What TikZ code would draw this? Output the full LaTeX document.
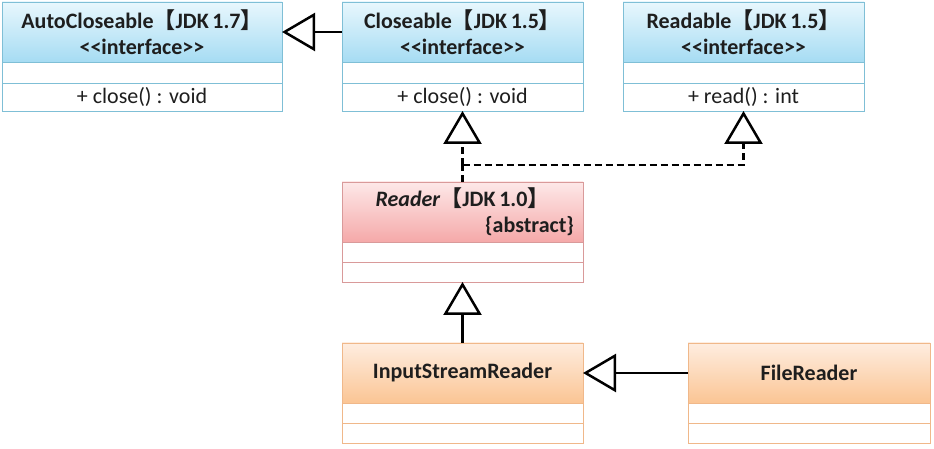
\documentclass[tikz,border=0pt]{standalone}
\usepackage{fontspec}
\setmainfont{Carlito}
\newfontfamily\cjk{Noto Sans CJK SC}
\usetikzlibrary{positioning}
\usetikzlibrary{arrows.meta}
\usetikzlibrary{calc}
\definecolor{ifcline}{HTML}{7FBFD6}
\definecolor{ifctop}{HTML}{E8F7FD}
\definecolor{ifcbot}{HTML}{A6DCF3}
\definecolor{absline}{HTML}{D99A9A}
\definecolor{abstop}{HTML}{FDE8E8}
\definecolor{absbot}{HTML}{F5A9A9}
\definecolor{clsline}{HTML}{F0B88A}
\definecolor{clstop}{HTML}{FEEDE0}
\definecolor{clsbot}{HTML}{FBC594}
\definecolor{ink}{HTML}{1E1E1E}
\newcommand{\jdk}[1]{{\cjk 【}JDK\,#1{\cjk 】}}
\newcommand{\stereo}[1]{<\kern0pt<#1>\kern0pt>}

\begin{document}
\begin{tikzpicture}[
  x=1pt, y=1pt,
  hdr/.style 2 args={
    draw=#1line,
    top color=#1top,
    bottom color=#1bot,
    line width=0.8pt,
    minimum width=#2,
    minimum height=60pt,
    inner sep=0pt,
    outer sep=0pt,
    align=center,
    text=ink,
    font=\fontsize{22}{26}\selectfont\bfseries},
  cell/.style 2 args={
    draw=#1line,
    fill=white,
    line width=0.8pt,
    minimum width=#2,
    minimum height=21pt,
    inner sep=0pt,
    outer sep=0pt,
    text=ink,
    font=\fontsize{22}{24}\selectfont}]
  \useasboundingbox (0,0) rectangle (934,449);
  % interface headers
  \node[hdr={ifc}{280pt}] (ac) at (142, 417) {AutoCloseable\jdk{1.7}\\\stereo{interface}};
  \node[hdr={ifc}{241pt}] (cl) at (462.5, 417) {Closeable\jdk{1.5}\\\stereo{interface}};
  \node[hdr={ifc}{241pt}] (rb) at (743.5, 417) {Readable\jdk{1.5}\\\stereo{interface}};
  % interface compartments
  \foreach \b/\w/\m in {ac/280pt/close() : void,cl/241pt/close() : void,rb/241pt/read() : int} {
    \node[cell={ifc}{\w}] (\b2) [below=0pt of \b] {};
    \node[cell={ifc}{\w},minimum height=28pt] (\b3) [below=0pt of \b2] {+ \m};
  }
  % class headers
  \node[hdr={abs}{241pt},text width=223pt] (rd) at (462.5, 237) {\textit{Reader}\jdk{1.0}\\\hfill\{abstract\}};
  \node[hdr={cls}{241pt}] (isr) at (462.5, 76) {InputStreamReader};
  \node[hdr={cls}{242pt}] (fr) at (809, 76) {FileReader};
  % class compartments
  \foreach \b/\c/\w in {rd/abs/241pt,isr/cls/241pt,fr/cls/242pt} {
    \node[cell={\c}{\w},minimum height=20pt] (\b2) [below=0pt of \b] {};
    \node[cell={\c}{\w},minimum height=20pt] (\b3) [below=0pt of \b2] {};
  }
  % generalization links
  \draw[line width=2.5pt,-{Triangle[length=33pt,width=38pt,fill=white]}] (cl.west) -- (ac.east);
  \draw[line width=2.5pt,-{Triangle[length=33pt,width=38pt,fill=white]}] (isr.north) -- (rd3.south);
  \draw[line width=2.5pt,-{Triangle[length=33pt,width=38pt,fill=white]}] (fr.west) -- (isr.east);
  % realization links
  \coordinate (jn) at ($(rd.north)+(0,17)$);
  \draw[line width=2.5pt,dash pattern=on 7pt off 4pt] (rd.north) -- (jn);
  \draw[line width=2.5pt,dash pattern=on 7pt off 4pt,-{Triangle[length=33pt,width=38pt,fill=white]}] (jn) -- (cl3.south);
  \draw[line width=2.5pt,dash pattern=on 7pt off 4pt,-{Triangle[length=33pt,width=38pt,fill=white]}] (jn) -| (rb3.south);
\end{tikzpicture}
\end{document}
